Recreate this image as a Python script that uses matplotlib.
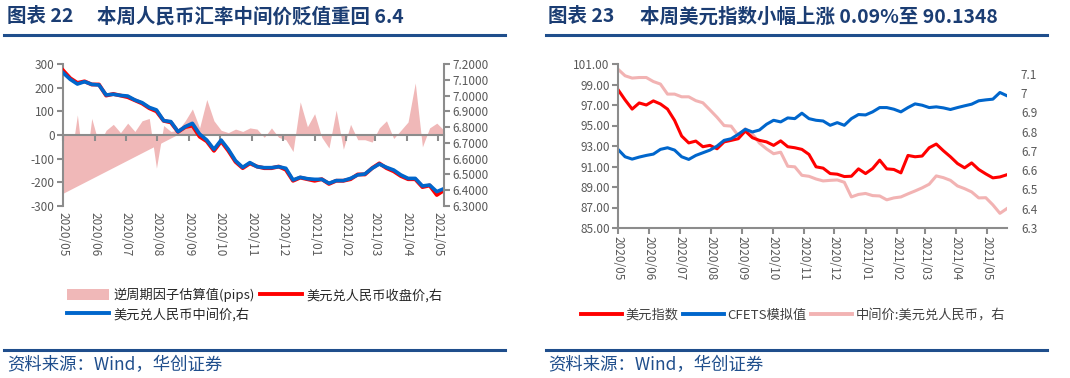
import matplotlib
matplotlib.use('Agg')
import matplotlib.pyplot as plt
import matplotlib.dates as mdates
import numpy as np
import pandas as pd
from matplotlib.lines import Line2D
from matplotlib.patches import Patch

plt.rcParams['font.family'] = ['Noto Sans CJK SC', 'DejaVu Sans']
plt.rcParams['axes.unicode_minus'] = False

# ---- left chart: CNY fixing / close and counter-cyclical factor (weekly) ----
left_dates = pd.date_range('2020-05-01', periods=54, freq='7D')
usdcny_mid = [7.145, 7.103, 7.073, 7.088, 7.071, 7.067, 7.004, 7.008, 7.001, 6.997,
              6.972, 6.955, 6.925, 6.909, 6.841, 6.835, 6.771, 6.803, 6.824, 6.756,
              6.718, 6.659, 6.718, 6.659, 6.587, 6.545, 6.575, 6.549, 6.543, 6.543,
              6.549, 6.539, 6.465, 6.482, 6.473, 6.469, 6.469, 6.444, 6.461, 6.461,
              6.475, 6.497, 6.503, 6.539, 6.566, 6.545, 6.528, 6.497, 6.475, 6.475,
              6.427, 6.433, 6.391, 6.410]
usdcny_close = [7.16, 7.11, 7.08, 7.09, 7.07, 7.07, 7.00, 7.01, 7.00, 6.99,
                6.97, 6.95, 6.92, 6.90, 6.84, 6.83, 6.77, 6.80, 6.81, 6.74,
                6.71, 6.65, 6.71, 6.65, 6.58, 6.54, 6.57, 6.55, 6.54, 6.54,
                6.55, 6.53, 6.46, 6.48, 6.47, 6.46, 6.47, 6.44, 6.46, 6.46,
                6.47, 6.50, 6.50, 6.54, 6.57, 6.54, 6.52, 6.49, 6.47, 6.47,
                6.42, 6.43, 6.37, 6.40]
ccf_pips = [-110, -125, 85, -170, 70, -40, 20, 45, 10, 50,
            15, 60, 70, -140, 40, 15, 20, 60, 110, 30,
            150, 60, 20, 10, 25, 15, 30, 25, -10, 30,
            -10, -20, -70, 140, 35, 90, -10, -55, 105, -60,
            45, -20, -20, -30, 30, 60, -15, 20, 55, 220,
            -50, 30, 50, 20]
# area-chart artefact in the source: wedge from the first date down to this level
ramp_low = -250
ramp_end = '2020-08-21'

# ---- right chart: DXY, CFETS basket, CNY fixing (weekly) ----
right_dates = pd.date_range('2020-05-01', periods=56, freq='7D')
dxy = [98.5, 97.5, 96.6, 97.2, 97.0, 97.4, 97.1, 96.6, 95.5, 93.97,
       93.3, 93.48, 92.93, 93.06, 92.73, 93.4, 93.55, 93.71, 94.46, 93.81,
       93.55, 93.4, 93.06, 93.5, 92.93, 92.83, 92.67, 92.18,
       90.97, 90.84, 90.31, 90.25, 90.02, 90.05, 90.77, 90.31, 90.8, 91.62,
       90.77, 90.71, 90.38, 92.08, 91.95, 92.02, 92.83, 93.19, 92.54, 91.95,
       91.29, 90.87, 91.35, 90.71, 90.28, 89.89, 89.98, 90.2]
cfets = [92.67, 91.95, 91.72, 91.92, 92.08, 92.21, 92.67, 92.83, 92.6, 91.95,
         91.69, 92.08, 92.34, 92.6, 92.99, 93.55, 93.71, 94.14, 94.63, 94.37,
         94.56, 95.12, 95.51, 95.35, 95.74, 95.67, 96.2, 95.67,
         95.51, 95.44, 95.02, 95.28, 95.02, 95.67, 96.07, 96.03, 96.33, 96.75,
         96.75, 96.59, 96.33, 96.75, 97.11, 96.98, 96.75, 96.82, 96.72, 96.56,
         96.75, 96.92, 97.08, 97.41, 97.5, 97.57, 98.22, 97.9]
fixing = [7.123, 7.089, 7.077, 7.080, 7.080, 7.059, 7.046, 6.994, 6.994, 6.98,
          6.98, 6.96, 6.949, 6.912, 6.874, 6.831, 6.828, 6.779, 6.814, 6.788,
          6.74, 6.71, 6.685, 6.693, 6.62, 6.617, 6.573, 6.568,
          6.554, 6.544, 6.547, 6.549, 6.537, 6.461, 6.474, 6.479, 6.468, 6.466,
          6.446, 6.456, 6.461, 6.477, 6.492, 6.508, 6.527, 6.57, 6.561, 6.547,
          6.518, 6.504, 6.487, 6.456, 6.457, 6.42, 6.376, 6.401]

months = pd.date_range('2020-05-01', '2021-05-01', freq='MS')
month_labels = [m.strftime('%Y/%m') for m in months]

NAVY = '#1F4E8C'
TITLE = '#1B3D73'
GREY = '#8C8C8C'
LABEL = '#595959'
RED = '#FF0000'
BLUE = '#0066CC'
PINK = '#F0B8B8'
PINK_LINE = '#F2B3B3'

W, H = 1070, 378
fig = plt.figure(figsize=(W / 100, H / 100), dpi=100)


def fx(px):
    return px / W


def fy(py):
    return 1 - py / H


xl = mdates.date2num(left_dates)
xr = mdates.date2num(right_dates)
xm = mdates.date2num(months)

# ================= left chart =================
ax1 = fig.add_axes([fx(63), fy(206), fx(381), 142 / H])
ax1.fill_between(xl, ccf_pips, 0, color=PINK, lw=0)
ax1.fill(mdates.date2num(pd.to_datetime([left_dates[0], left_dates[0], ramp_end])),
         [ramp_low, 0, 0], color=PINK, lw=0)
ax1.set_xlim(xl[0], xl[-1])
ax1.set_ylim(-300, 300)
ax1.set_yticks(np.arange(-300, 301, 100))
ax1.spines['top'].set_visible(False)
ax1.spines['right'].set_visible(False)
ax1.spines['bottom'].set_position(('data', 0))
for s in ('left', 'bottom'):
    ax1.spines[s].set_color(GREY)
    ax1.spines[s].set_linewidth(1.5)
ax1.set_xticks(xm)
ax1.tick_params(axis='x', labelbottom=False, length=4, width=1.5, color=GREY)
ax1.tick_params(axis='y', length=4, width=1.5, color=GREY, labelcolor=LABEL,
                labelsize=8.5, pad=2)

sec = ax1.secondary_xaxis('bottom')
sec.set_xticks(xm, month_labels)
sec.spines['bottom'].set_visible(False)
sec.tick_params(length=0, pad=4, labelsize=8.5, labelcolor=LABEL, rotation=-90)

ax1r = ax1.twinx()
ax1r.plot(xl, usdcny_close, color=RED, lw=2.8)
ax1r.plot(xl, usdcny_mid, color=BLUE, lw=2.6)
ax1r.set_ylim(6.3, 7.2)
ax1r.set_yticks(np.round(np.arange(6.3, 7.21, 0.1), 1))
ax1r.yaxis.set_major_formatter(matplotlib.ticker.FormatStrFormatter('%.4f'))
for s in ('top', 'left', 'bottom'):
    ax1r.spines[s].set_visible(False)
ax1r.spines['right'].set_color(GREY)
ax1r.spines['right'].set_linewidth(1.5)
ax1r.tick_params(axis='y', length=4, width=1.5, color=GREY, labelcolor=LABEL,
                 labelsize=8.5, pad=2)

h_pink = Patch(color=PINK, lw=0)
h_red = Line2D([], [], color=RED, lw=2.8)
h_blue = Line2D([], [], color=BLUE, lw=2.8)
fig.legend([h_pink, h_blue, h_red],
           ['逆周期因子估算值(pips)', '美元兑人民币中间价,右', '美元兑人民币收盘价,右'],
           ncol=2, loc='upper left', bbox_to_anchor=(fx(67), fy(288)),
           frameon=False, fontsize=9.5, handlelength=3.2, handleheight=0.9,
           handletextpad=0.3, columnspacing=0.4, labelspacing=0.4,
           borderpad=0, borderaxespad=0, labelcolor='#262626')

# ================= right chart =================
ax2 = fig.add_axes([fx(618), fy(228), fx(389), 164 / H])
ax2r = ax2.twinx()
ax2r.plot(xr, fixing, color=PINK_LINE, lw=2.2)
ax2.plot(xr, dxy, color=RED, lw=2.2)
ax2.plot(xr, cfets, color=BLUE, lw=2.2)
ax2.set_zorder(ax2r.get_zorder() + 1)
ax2.patch.set_visible(False)

ax2.set_xlim(xr[0], xr[-1])
ax2.set_ylim(85, 101)
ax2.set_yticks(np.arange(85, 101.1, 2))
ax2.yaxis.set_major_formatter(matplotlib.ticker.FormatStrFormatter('%.2f'))
ax2.set_xticks(xm, month_labels)
ax2.spines['top'].set_visible(False)
ax2.spines['right'].set_visible(False)
for s in ('left', 'bottom'):
    ax2.spines[s].set_color(GREY)
    ax2.spines[s].set_linewidth(1.5)
ax2.tick_params(axis='x', length=4, width=1.5, color=GREY, labelcolor=LABEL,
                labelsize=8.5, rotation=-90, pad=2)
ax2.tick_params(axis='y', length=4, width=1.5, color=GREY, labelcolor=LABEL,
                labelsize=8.5, pad=2)

ax2r.set_ylim(6.3, 7.15)
ax2r.set_yticks(np.round(np.arange(6.3, 7.11, 0.1), 1))
ax2r.yaxis.set_major_formatter(matplotlib.ticker.FuncFormatter(lambda v, p: '%g' % round(v, 1)))
for s in ax2r.spines.values():
    s.set_visible(False)
ax2r.tick_params(axis='y', length=0, pad=10, labelcolor=LABEL, labelsize=8.5)

fig.legend([Line2D([], [], color=RED, lw=2.8),
            Line2D([], [], color=BLUE, lw=2.8),
            Line2D([], [], color=PINK_LINE, lw=2.8)],
           ['美元指数', 'CFETS模拟值', '中间价:美元兑人民币，右'],
           ncol=3, loc='upper left', bbox_to_anchor=(fx(581), fy(309)),
           frameon=False, fontsize=9.5, handlelength=3.1,
           handletextpad=0.3, columnspacing=0.3,
           borderpad=0, borderaxespad=0, labelcolor='#404040')

# ================= titles, rules, source =================
for x0, x1 in ((4, 505), (546, 1047)):
    fig.add_artist(Line2D([fx(x0), fx(x1)], [fy(35), fy(35)], color=NAVY, lw=2.2))
    fig.add_artist(Line2D([fx(x0), fx(x1)], [fy(350), fy(350)], color=NAVY, lw=2.2))

TSIZE = 14
fig.text(fx(7), fy(17), '图表 22', fontsize=TSIZE, fontweight='bold', color=TITLE, va='center')
fig.text(fx(97), fy(17), '本周人民币汇率中间价贬值重回 6.4', fontsize=TSIZE,
         fontweight='bold', color=TITLE, va='center')
fig.text(fx(548), fy(17), '图表 23', fontsize=TSIZE, fontweight='bold', color=TITLE, va='center')
fig.text(fx(640), fy(17), '本周美元指数小幅上涨 0.09%至 90.1348', fontsize=TSIZE,
         fontweight='bold', color=TITLE, va='center')

for x0 in (7, 548):
    fig.text(fx(x0), fy(365), '资料来源：Wind，华创证券', fontsize=12.5, style='italic',
             color=NAVY, va='center')

fig.savefig('out.png', dpi=100)
